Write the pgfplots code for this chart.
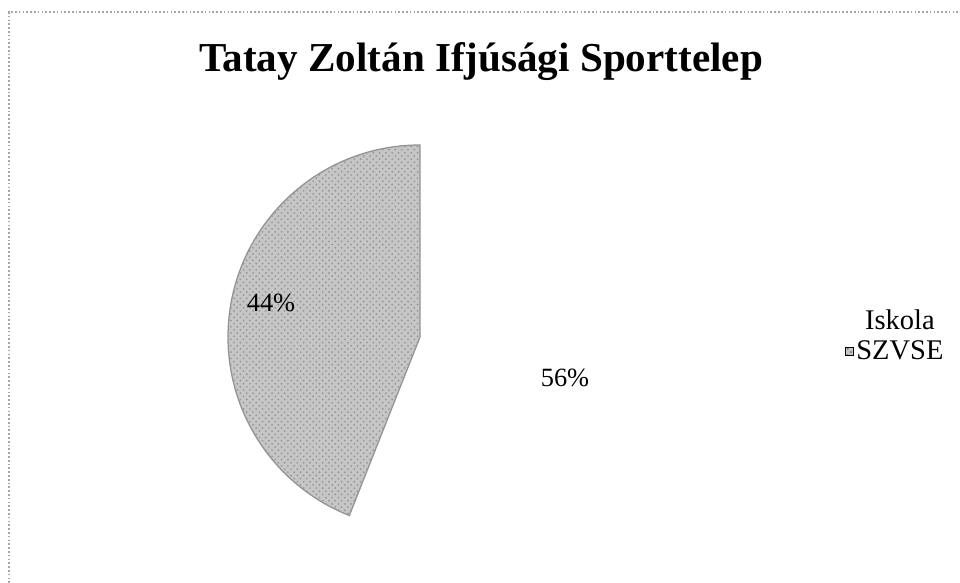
\documentclass[border=0pt]{standalone}
\usepackage{pgfplots}
\pgfplotsset{compat=1.18}
\usepackage{pgfplotstable}
\usepackage{fontspec}
\setmainfont{Liberation Serif}
\usetikzlibrary{patterns}

% share of each group, in per cent (Excel order: first slice starts at 12 o'clock)
\pgfplotstableread{
label share
Iskola 56
SZVSE 44
}\piedata

\begin{document}
\begin{tikzpicture}
\pgfplotstablegetelem{1}{share}\of\piedata
\pgfmathsetmacro{\endang}{90+3.6*\pgfplotsretval}
\begin{axis}[
  width=16cm, height=9.7167cm, scale only axis,
  xmin=0, xmax=960, ymin=0, ymax=583,
  hide axis, clip=false,
  legend cell align=center,
  legend style={at={(axis cs:845,247)}, anchor=west, draw=none, fill=none,
                font=\fontsize{13.5}{15}\selectfont, row sep=0pt,
                inner sep=0pt, nodes={inner xsep=1pt}},
]
\coordinate (bl) at (axis cs:0,0);
\coordinate (tr) at (axis cs:960,583);

% frame of the chart area (only top and left edge visible)
\draw[gray!70, densely dotted, line width=0.8pt]
  (axis cs:9,0) -- (axis cs:9,571) -- (axis cs:960,571);

\addlegendimage{legend image code/.code={}}
\addlegendentry{Iskola}
\addlegendimage{legend image code/.code={
  \fill[gray!45] (0pt,-1.9pt) rectangle (3.8pt,1.9pt);
  \fill[pattern=crosshatch dots, pattern color=gray!90!black]
    (0pt,-1.9pt) rectangle (3.8pt,1.9pt);}}
\addlegendentry{SZVSE}

% SZVSE slice (the Iskola slice is white)
\fill[gray!45, draw=gray!85, line width=0.6pt]
  (axis cs:420,246) -- (axis cs:420,438)
  arc[start angle=90, end angle=\endang, radius=3.2cm] -- cycle;
\fill[pattern=crosshatch dots, pattern color=gray!80]
  (axis cs:420,246) -- (axis cs:420,438)
  arc[start angle=90, end angle=\endang, radius=3.2cm] -- cycle;

\node[font=\fontsize{12.5}{14}\selectfont] at (axis cs:271,280) {44\%};
\node[font=\fontsize{12.5}{14}\selectfont] at (axis cs:565,205) {56\%};

\node[font=\bfseries\fontsize{19.5}{23}\selectfont, anchor=base]
  at (axis cs:481,511) {Tatay Zoltán Ifjúsági Sporttelep};
\end{axis}
\pgfresetboundingbox
\path[use as bounding box] (bl) rectangle (tr);
\end{tikzpicture}
\end{document}
